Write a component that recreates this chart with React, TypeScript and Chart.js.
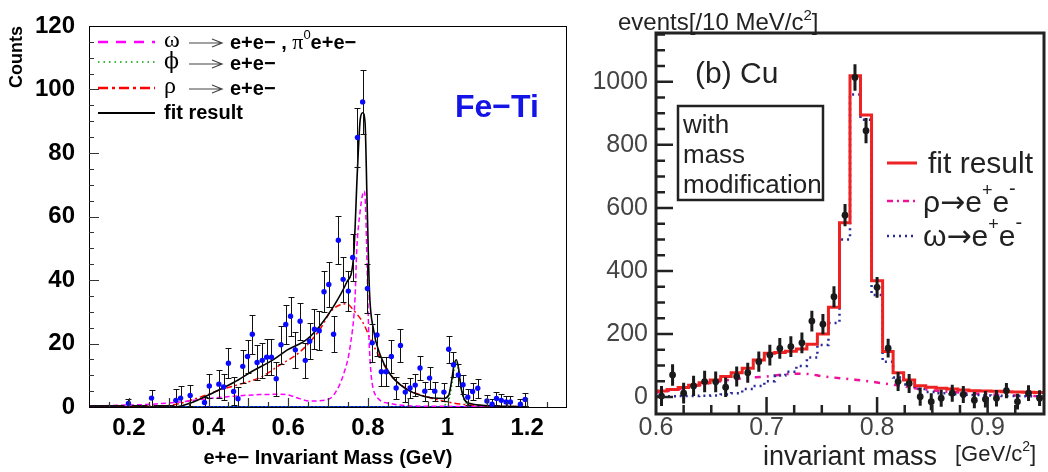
import React, { useEffect, useRef } from "react";
import { Chart, registerables } from "chart.js";
Chart.register(...registerables);

const SANS = '"Liberation Sans", Arial, Helvetica, sans-serif';
const SERIF = '"Liberation Serif", "Times New Roman", serif';
const GREEK = '"DejaVu Serif", "Liberation Serif", serif';

// ---------------- Left panel (Fe-Ti) ----------------
const feX = [0.199,0.257,0.318,0.330,0.354,0.390,0.402,0.426,0.438,0.450,0.463,0.474,0.486,0.498,0.510,0.522,0.535,0.546,0.558,0.570,0.582,0.594,0.606,0.618,0.630,0.643,0.654,0.666,0.678,0.690,0.702,0.714,0.726,0.738,0.751,0.762,0.774,0.787,0.799,0.811,0.823,0.834,0.846,0.859,0.871,0.882,0.894,0.906,0.919,0.931,0.943,0.955,0.968,0.991,1.003,1.015,1.027,1.039,1.051,1.063,1.076,1.099,1.112,1.123,1.135,1.147,1.158,1.183,1.195];
const feY = [1.1,2.8,2.1,2.8,3.6,1.4,6.6,7.2,6.3,13.8,4.9,2.6,12.8,15.9,22.9,14.0,14.7,15.7,15.7,8.9,19.6,26.0,28.6,18.0,27.0,14.7,20.7,24.5,24.0,36.3,38.6,22.9,52.5,40.2,36.5,47.1,84.9,96.1,37.3,20.2,22.7,11.1,11.1,15.9,6.0,19.4,4.7,6.0,6.9,12.3,5.0,9.1,5.0,4.7,18.2,13.3,10.1,7.0,3.1,4.9,5.9,1.9,0.9,2.7,2.1,1.6,1.6,0.9,2.4];
const feErr = [1.3,2.5,3.6,3.9,3.2,1.7,3.9,4.3,4.1,4.7,4.4,3.6,5.3,5.3,6.1,5.5,5.6,5.7,5.7,5.3,6.0,6.2,6.1,5.7,5.9,5.6,5.7,6.3,6.1,6.4,7.0,5.7,7.6,7.0,6.4,7.4,9.4,10.0,7.6,6.0,6.5,4.6,4.6,5.1,3.5,5.1,3.0,3.2,3.4,3.8,3.0,3.5,3.0,2.8,4.3,4.0,3.6,3.0,2.5,2.8,3.0,2.0,1.5,2.0,2.0,1.8,1.8,1.5,2.0];
const zeroX = [0.106,0.118,0.131,0.143,0.156,0.168,0.181,0.212,0.224,0.237,0.268,0.281,0.293,0.306];
const zeroErr = [0.6,0.6,0.6,0.6,0.6,0.6,0.6,0.6,0.6,0.6,0.6,0.6,0.6,0.6];

const fitX = [0.10,0.30,0.32,0.362,0.412,0.463,0.513,0.563,0.597,0.647,0.68,0.714,0.747,0.764,0.774,0.781,0.787,0.793,0.798,0.804,0.814,0.831,0.856,0.89,0.94,0.99,1.003,1.010,1.016,1.022,1.028,1.034,1.042,1.057,1.124,1.204];
const fitY = [0,0,0.1,1.6,4.5,7.7,11.5,14.9,17.9,21.3,25.6,31.7,39.3,47,75,90.7,92.7,89.6,65.2,36.7,24.5,16.4,10.3,6.2,3.4,2.7,3.7,8,13,14.9,12,6,2.5,1.1,0.3,0.1];
const omegaX = [0.10,0.195,0.26,0.33,0.396,0.463,0.53,0.58,0.60,0.622,0.655,0.697,0.714,0.739,0.756,0.768,0.772,0.781,0.787,0.791,0.794,0.798,0.802,0.806,0.81,0.823,0.856,0.90,1.0,1.2];
const omegaY = [0.3,0.6,0.9,1.6,2.6,3.4,3.9,4.0,3.8,2.9,1.9,2.3,3.7,10.3,19.4,34.7,49,62,67,68,64,45,24.5,14,8.2,3.1,1.1,0.4,0.2,0.1];
const rhoX = [0.10,0.25,0.32,0.379,0.429,0.479,0.53,0.58,0.63,0.68,0.706,0.731,0.747,0.764,0.789,0.806,0.831,0.856,0.898,0.957,0.999,1.057,1.124,1.2];
const rhoY = [0,0.2,0.9,3.1,5.4,7.2,9.3,13.3,17.4,24.5,30,32.2,32.5,30.5,26.3,21.5,15.4,10.3,5.7,2.9,1.6,0.6,0.2,0.1];
const phiX = [0.10,0.98,0.995,1.005,1.012,1.018,1.022,1.026,1.032,1.04,1.05,1.065,1.2];
const phiY = [0,0,0.8,3,8,12.5,14.3,12.5,8,3,0.8,0,0];
const baseX = [0.1, 1.2];
const baseY = [0, 0];

const feXTicks = [0.2, 0.4, 0.6, 0.8, 1.0, 1.2];
const feXTickLabels = ["0.2", "0.4", "0.6", "0.8", "1", "1.2"];
const feYTicks = [0, 20, 40, 60, 80, 100, 120];

// ---------------- Right panel (Cu) ----------------
const cuX = [0.605,0.615,0.625,0.634,0.644,0.654,0.663,0.673,0.683,0.693,0.703,0.712,0.722,0.732,0.741,0.751,0.761,0.771,0.780,0.790,0.800,0.810,0.819,0.829,0.839,0.849,0.858,0.868,0.878,0.888,0.898,0.908,0.917,0.927,0.937,0.947];
const cuY = [3,70,12,35,49,48,31,65,77,112,133,154,160,172,241,231,318,577,1014,845,348,155,49,43,1,-15,-4,12,8,-10,-7,-4,20,-15,12,-4];
const cuErr = [32,34,33,32,34,33,31,32,32,32,33,33,33,33,33,32,33,35,42,40,33,30,30,30,29,27,27,27,27,26,26,26,24,25,25,25];
const cuFit = [19,24,30,37,45,54,65,77,91,117,139,141,145,152,167,200,285,553,1019,895,369,144,77,54,36,31,28,25,22,20,19,18,17,16,15,14];
const cuOmega = [2,2,3,3,4,5,8,12,25,35,50,68,80,98,125,165,235,500,960,880,324,112,62,40,25,16,12,9,7,6,5,4,3,3,2,2];
const cuRhoX = [0.600,0.625,0.650,0.675,0.700,0.725,0.740,0.750,0.780,0.800,0.820,0.840,0.860,0.880,0.900,0.925,0.950];
const cuRhoY = [14,28,45,58,65,74,72,66,55,46,36,25,18,13,9,5,2];

const cuXMin = 0.6;
const cuXMax = 0.951;
const cuXTicks = [0.6, 0.7, 0.8, 0.9];
const cuXTickLabels = ["0.6", "0.7", "0.8", "0.9"];
const cuYTicks = [0, 200, 400, 600, 800, 1000];
const cuYTickLabels = ["0", "200", "400", "600", "800", "1000"];

const pts = (xs: number[], ys: number[]) => xs.map((x, i) => ({ x, y: ys[i] }));

type Seg = { t: string; font: string; dy?: number; color?: string };
function drawRich(ctx: CanvasRenderingContext2D, x: number, y: number, segs: Seg[], color = "#000") {
  let cx = x;
  for (const s of segs) {
    ctx.font = s.font;
    ctx.fillStyle = s.color || color;
    ctx.fillText(s.t, cx, y + (s.dy || 0));
    cx += ctx.measureText(s.t).width;
  }
  return cx;
}

function hLine(ctx: CanvasRenderingContext2D, x1: number, x2: number, y: number, color: string, w: number, dash: number[]) {
  ctx.save();
  ctx.strokeStyle = color;
  ctx.lineWidth = w;
  ctx.setLineDash(dash);
  ctx.beginPath();
  ctx.moveTo(x1, y);
  ctx.lineTo(x2, y);
  ctx.stroke();
  ctx.restore();
}

function FeTiChart() {
  const ref = useRef<HTMLCanvasElement>(null);
  useEffect(() => {
    const canvas = ref.current!;
    const decor = {
      id: "feDecor",
      beforeDatasetDraw(chart: any, args: any) {
        if (args.index !== 0) return;
        const { ctx, chartArea: a } = chart;
        const x = chart.scales.x, y = chart.scales.y;
        ctx.save();
        ctx.beginPath();
        ctx.rect(a.left, a.top - 5, a.right - a.left, a.bottom - a.top + 5);
        ctx.clip();
        ctx.strokeStyle = "#111";
        ctx.lineWidth = 1;
        const bar = (xv: number, yv: number, e: number) => {
          const px = Math.round(x.getPixelForValue(xv)) + 0.5;
          const p1 = Math.round(y.getPixelForValue(yv + e)) + 0.5;
          const p2 = Math.round(y.getPixelForValue(yv - e)) + 0.5;
          ctx.beginPath();
          ctx.moveTo(px, p1); ctx.lineTo(px, p2);
          ctx.moveTo(px - 3, p1); ctx.lineTo(px + 3, p1);
          ctx.moveTo(px - 3, p2); ctx.lineTo(px + 3, p2);
          ctx.stroke();
        };
        feX.forEach((v, i) => bar(v, feY[i], feErr[i]));
        zeroX.forEach((v, i) => bar(v, 0, zeroErr[i]));
        ctx.restore();
      },
      afterDraw(chart: any) {
        const { ctx, chartArea: a } = chart;
        const x = chart.scales.x, y = chart.scales.y;
        ctx.save();
        // frame
        ctx.strokeStyle = "#000";
        ctx.lineWidth = 1;
        ctx.strokeRect(a.left + 0.5, a.top + 0.5, a.right - a.left - 1, a.bottom - a.top);
        ctx.strokeStyle = "#333";
        ctx.lineWidth = 1.2;
        ctx.beginPath();
        for (let k = 1; k <= 23; k++) {
          const py = Math.round(y.getPixelForValue(k * 5)) + 0.5;
          const len = k % 4 === 0 ? 10 : 5;
          ctx.moveTo(a.left, py); ctx.lineTo(a.left + len, py);
        }
        for (let k = 3; k <= 25; k++) {
          const px = Math.round(x.getPixelForValue(k * 0.05)) + 0.5;
          const len = k % 2 === 0 ? 9 : 5;
          ctx.moveTo(px, a.bottom); ctx.lineTo(px, a.bottom - len);
        }
        ctx.stroke();

        // legend
        const lx1 = 98, lx2 = 155, tx = 164;
        hLine(ctx, lx1, lx2, 42, "#ff00ff", 2.5, [10, 8]);
        hLine(ctx, lx1, lx2, 62, "#00a000", 1.6, [1.5, 4]);
        hLine(ctx, lx1, lx2, 88, "#ff0000", 2.5, [10, 4, 3, 4]);
        hLine(ctx, lx1, lx2, 113, "#000", 2, []);
        ctx.textBaseline = "middle";
        ctx.textAlign = "left";
        const arrow = (yy: number) => {
          ctx.save();
          ctx.strokeStyle = "#444";
          ctx.lineWidth = 1.2;
          ctx.beginPath();
          ctx.moveTo(189, yy); ctx.lineTo(222, yy);
          ctx.moveTo(212, yy - 4); ctx.lineTo(222, yy); ctx.lineTo(212, yy + 4);
          ctx.stroke();
          ctx.restore();
        };
        const gFont = `24px ${SERIF}`;
        const bFont = `bold 20px ${SANS}`;
        drawRich(ctx, tx, 41, [{ t: "ω", font: gFont }]);
        arrow(43);
        drawRich(ctx, 230, 43, [
          { t: "e+e− , ", font: bFont },
          { t: "π", font: `22px ${SERIF}` },
          { t: "0", font: `13px ${SANS}`, dy: -8 },
          { t: "e+e−", font: bFont },
        ]);
        drawRich(ctx, tx, 62, [{ t: "ϕ", font: `22px ${GREEK}` }]);
        arrow(64);
        drawRich(ctx, 230, 64, [{ t: "e+e−", font: bFont }]);
        drawRich(ctx, tx, 87, [{ t: "ρ", font: gFont }]);
        arrow(89);
        drawRich(ctx, 230, 89, [{ t: "e+e−", font: bFont }]);
        drawRich(ctx, tx, 113, [{ t: "fit result", font: bFont }]);

        drawRich(ctx, 455, 108, [{ t: "Fe−Ti", font: `bold 32px ${SANS}`, color: "#1414e6" }]);
        ctx.restore();
      },
    };

    const chart = new Chart(canvas, {
      type: "line",
      data: {
        datasets: [
          { data: pts(feX, feY), showLine: false, pointRadius: 2.7, pointBackgroundColor: "#0a0aff", pointBorderWidth: 0, borderColor: "#0a0aff" },
          { data: pts(fitX, fitY), borderColor: "#000", borderWidth: 1.6, pointRadius: 0, cubicInterpolationMode: "monotone", clip: 3 },
          { data: pts(omegaX, omegaY), borderColor: "#ff00ff", borderWidth: 1.5, borderDash: [5, 3], pointRadius: 0, cubicInterpolationMode: "monotone", clip: 3 },
          { data: pts(rhoX, rhoY), borderColor: "#ff0000", borderWidth: 1.5, borderDash: [6, 3, 2, 3], pointRadius: 0, cubicInterpolationMode: "monotone", clip: 3 },
          { data: pts(phiX, phiY), borderColor: "#00b000", borderWidth: 1.5, borderDash: [1.5, 2.5], pointRadius: 0, cubicInterpolationMode: "monotone", clip: 3 },
          { data: pts(baseX, baseY), borderColor: "#0000ff", borderWidth: 2, pointRadius: 0, clip: 3 },
        ] as any,
      },
      options: {
        responsive: false,
        animation: false,
        devicePixelRatio: 1,
        layout: { padding: { top: 14, right: 13, left: 0, bottom: 0 } },
        plugins: { legend: { display: false }, tooltip: { enabled: false }, title: { display: false } },
        scales: {
          x: {
            type: "linear",
            min: 0.1,
            max: 1.3,
            grid: { display: false, drawTicks: false },
            border: { display: false },
            afterBuildTicks: (s: any) => { s.ticks = feXTicks.map((v) => ({ value: v })); },
            afterFit: (s: any) => { s.height = 65; },
            ticks: {
              padding: 9,
              color: "#000",
              maxRotation: 0,
              autoSkip: false,
              font: { family: SANS, weight: "bold", size: 24, lineHeight: 1 },
              callback: (_v: any, i: number) => feXTickLabels[i],
            },
            title: {
              display: true,
              text: "e+e− Invariant Mass (GeV)",
              color: "#000",
              font: { family: SANS, weight: "bold", size: 20, lineHeight: 1.2 },
              padding: { top: 0, bottom: 2 },
            },
          },
          y: {
            type: "linear",
            min: 0,
            max: 120,
            grid: { display: false, drawTicks: false },
            border: { display: false },
            afterBuildTicks: (s: any) => { s.ticks = feYTicks.map((v) => ({ value: v })); },
            afterFit: (s: any) => { s.width = 89; },
            ticks: { padding: 14, color: "#000", font: { family: SANS, weight: "bold", size: 24, lineHeight: 1 }, callback: (v: any) => String(v) },
            title: {
              display: true,
              text: "Counts",
              align: "end",
              color: "#000",
              font: { family: SANS, weight: "bold", size: 18, lineHeight: 1.2 },
              padding: { top: 6, bottom: 0 },
            },
          },
        },
      } as any,
      plugins: [decor as any],
    });
    return () => chart.destroy();
  }, []);
  return <canvas ref={ref} width={580} height={472} style={{ display: "block" }} />;
}

function CuChart() {
  const ref = useRef<HTMLCanvasElement>(null);
  useEffect(() => {
    const canvas = ref.current!;
    const decor = {
      id: "cuDecor",
      afterDatasetsDraw(chart: any) {
        const { ctx, chartArea: a } = chart;
        const x = chart.scales.x, y = chart.scales.y;
        ctx.save();
        ctx.beginPath();
        ctx.rect(a.left, a.top, a.right - a.left, a.bottom - a.top);
        ctx.clip();
        ctx.strokeStyle = "#1a1a1a";
        ctx.lineWidth = 3;
        ctx.beginPath();
        cuX.forEach((v, i) => {
          const px = x.getPixelForValue(v);
          ctx.moveTo(px, y.getPixelForValue(cuY[i] + cuErr[i]));
          ctx.lineTo(px, y.getPixelForValue(cuY[i] - cuErr[i]));
        });
        ctx.stroke();
        ctx.restore();
      },
      afterDraw(chart: any) {
        const { ctx, chartArea: a } = chart;
        const x = chart.scales.x, y = chart.scales.y;
        ctx.save();
        ctx.strokeStyle = "#222";
        ctx.lineWidth = 2.5;
        ctx.beginPath();
        for (let k = 0; k <= 23; k++) {
          const py = y.getPixelForValue(k * 50);
          const len = k % 4 === 0 ? 17 : 9;
          ctx.moveTo(a.left, py); ctx.lineTo(a.left + len, py);
        }
        for (let k = 1; k <= 13; k++) {
          const px = x.getPixelForValue(0.6 + k * 0.025);
          const len = k % 4 === 0 ? 17 : 9;
          ctx.moveTo(px, a.bottom); ctx.lineTo(px, a.bottom - len);
        }
        ctx.stroke();
        ctx.lineWidth = 3;
        ctx.strokeRect(a.left, a.top, a.right - a.left, a.bottom - a.top);

        const col = "#222";
        ctx.textAlign = "left";
        ctx.textBaseline = "alphabetic";
        // y title
        drawRich(ctx, 38, 30, [
          { t: "events[/10 MeV/c", font: `24px ${SANS}` },
          { t: "2", font: `15px ${SANS}`, dy: -10 },
          { t: "]", font: `24px ${SANS}` },
        ], col);
        // x unit
        drawRich(ctx, 375, 461, [
          { t: "[GeV/c", font: `22px ${SANS}` },
          { t: "2", font: `14px ${SANS}`, dy: -10 },
          { t: "]", font: `22px ${SANS}` },
        ], col);
        // (b) Cu
        drawRich(ctx, 115, 83, [{ t: "(b) Cu", font: `30px ${SANS}` }], col);
        // box
        ctx.lineWidth = 2.5;
        ctx.strokeStyle = "#222";
        ctx.strokeRect(98, 106, 145, 94);
        drawRich(ctx, 103, 133, [{ t: "with", font: `26px ${SANS}` }], col);
        drawRich(ctx, 103, 163, [{ t: "mass", font: `26px ${SANS}` }], col);
        drawRich(ctx, 103, 193, [{ t: "modification", font: `26px ${SANS}` }], col);
        // legend
        hLine(ctx, 307, 337, 163, "#ee2222", 3, []);
        hLine(ctx, 307, 337, 201, "#ee1199", 2.5, [6, 4, 2, 4]);
        hLine(ctx, 307, 337, 236, "#2a2a9a", 2.5, [2, 4]);
        drawRich(ctx, 348, 173, [{ t: "fit result", font: `30px ${SANS}` }], col);
        const legRow = (yy: number, g: string) => drawRich(ctx, 343, yy, [
          { t: g, font: `30px ${SANS}` },
          { t: "→", font: `30px "DejaVu Sans", ${SANS}` },
          { t: "e", font: `30px ${SANS}` },
          { t: "+", font: `18px ${SANS}`, dy: -16 },
          { t: "e", font: `30px ${SANS}` },
          { t: "-", font: `20px ${SANS}`, dy: -17 },
        ], col);
        legRow(212, "ρ");
        legRow(246, "ω");
        ctx.restore();
      },
    };

    const fitData = [{ x: cuXMin, y: cuFit[0] }, ...pts(cuX, cuFit), { x: cuXMax, y: cuFit[cuFit.length - 1] }];
    const omData = [{ x: cuXMin, y: cuOmega[0] }, ...pts(cuX, cuOmega), { x: cuXMax, y: cuOmega[cuOmega.length - 1] }];

    const chart = new Chart(canvas, {
      type: "line",
      data: {
        datasets: [
          { data: pts(cuX, cuY), showLine: false, pointRadius: 3.4, pointBackgroundColor: "#1a1a1a", pointBorderWidth: 0, borderColor: "#1a1a1a" },
          { data: fitData, stepped: "middle", borderColor: "#ee2222", borderWidth: 3, pointRadius: 0 },
          { data: omData, stepped: "middle", borderColor: "#2a2a9a", borderWidth: 2.5, borderDash: [2, 4], pointRadius: 0 },
          { data: pts(cuRhoX, cuRhoY), borderColor: "#ee1199", borderWidth: 2.5, borderDash: [6, 6, 2, 6], pointRadius: 0, cubicInterpolationMode: "monotone" },
        ] as any,
      },
      options: {
        responsive: false,
        animation: false,
        devicePixelRatio: 1,
        layout: { padding: { top: 33, right: 4, left: 0, bottom: 0 } },
        plugins: { legend: { display: false }, tooltip: { enabled: false }, title: { display: false } },
        scales: {
          x: {
            type: "linear",
            min: cuXMin,
            max: cuXMax,
            grid: { display: false, drawTicks: false },
            border: { display: false },
            afterBuildTicks: (s: any) => { s.ticks = cuXTicks.map((v) => ({ value: v })); },
            afterFit: (s: any) => { s.height = 58; },
            ticks: {
              padding: 2,
              color: "#444",
              maxRotation: 0,
              autoSkip: false,
              font: { family: SANS, size: 25, lineHeight: 1 },
              callback: (_v: any, i: number) => cuXTickLabels[i],
            },
            title: {
              display: true,
              text: "invariant mass",
              color: "#222",
              font: { family: SANS, size: 27, lineHeight: 1 },
              padding: { top: 0, bottom: 0.5 },
            },
          },
          y: {
            type: "linear",
            min: -54,
            max: 1155,
            grid: { display: false, drawTicks: false },
            border: { display: false },
            afterBuildTicks: (s: any) => { s.ticks = cuYTicks.map((v) => ({ value: v })); },
            afterFit: (s: any) => { s.width = 76; },
            ticks: {
              padding: 8,
              color: "#444",
              font: { family: SANS, size: 25, lineHeight: 1 },
              callback: (_v: any, i: number) => cuYTickLabels[i],
            },
          },
        },
      } as any,
      plugins: [decor as any],
    });
    return () => chart.destroy();
  }, []);
  return <canvas ref={ref} width={468} height={472} style={{ display: "block" }} />;
}

export default function App() {
  return (
    <div style={{ position: "fixed", left: 0, top: 0, width: 1048, height: 472, background: "#fff", overflow: "hidden" }}>
      <div style={{ position: "absolute", left: 0, top: 0, width: 580, height: 472 }}>
        <FeTiChart />
      </div>
      <div style={{ position: "absolute", left: 580, top: 0, width: 468, height: 472 }}>
        <CuChart />
      </div>
    </div>
  );
}
